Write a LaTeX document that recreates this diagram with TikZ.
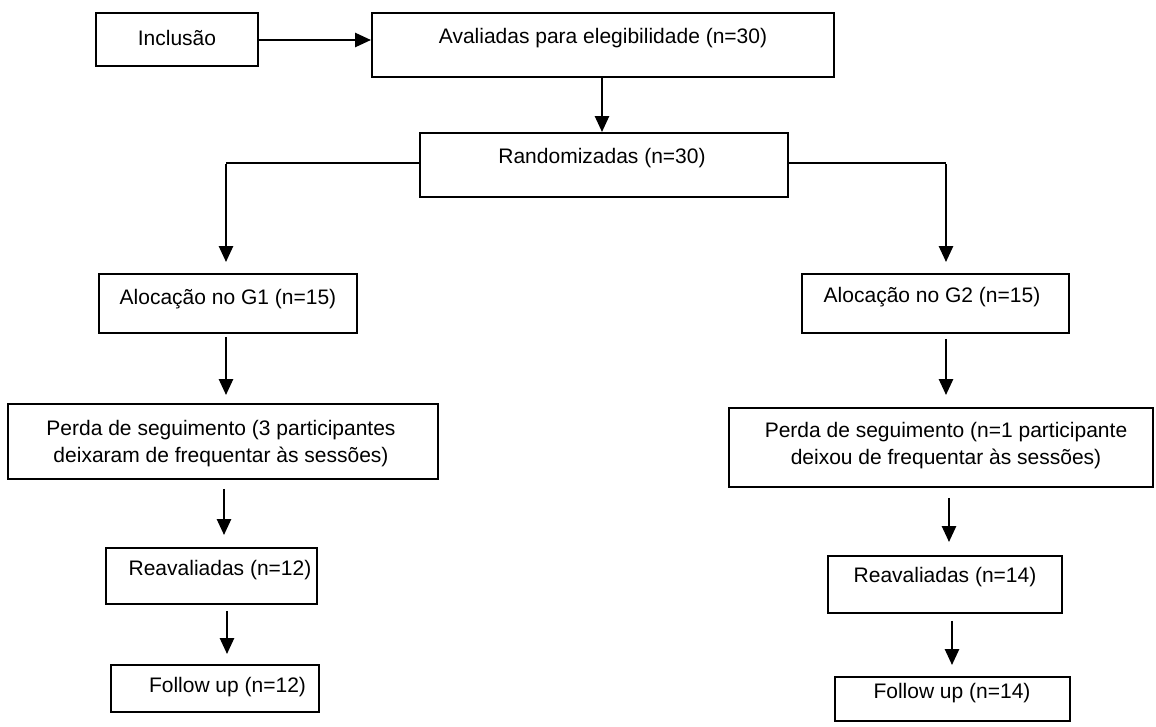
\documentclass[tikz,border=0pt]{standalone}
\usepackage{fontspec}
\setmainfont{Liberation Sans}
\usetikzlibrary{arrows.meta}
\begin{document}
\begin{tikzpicture}[x=1pt,y=-1pt,
  box/.style={draw=black, line width=1.9pt, rectangle, inner sep=0pt},
  txt/.style={inner sep=0pt, font=\fontsize{21}{27}\selectfont, align=center},
  arr/.style={draw=black, line width=2.6pt, -{Triangle[length=16pt,width=14pt]}},
  ln/.style={draw=black, line width=2.6pt}]
\useasboundingbox (0,0) rectangle (1156,726);
\fill[white] (0,0) rectangle (1156,726);
% boxes
\node[box, minimum width=162pt, minimum height=53pt] (inc) at (177,39.5) {};
\node[txt] (incT) at (177,38) {Inclusão};
\node[box, minimum width=462pt, minimum height=64pt] (ava) at (603,45) {};
\node[txt] (avaT) at (603,38) {Avaliadas para elegibilidade (n=30)};
\node[box, minimum width=368pt, minimum height=64pt] (rand) at (604,165) {};
\node[txt] (randT) at (602,158) {Randomizadas (n=30)};
\node[box, minimum width=258pt, minimum height=59pt] (g1) at (228,303.5) {};
\node[txt] (g1T) at (228,299) {Alocação no G1 (n=15)};
\node[box, minimum width=267pt, minimum height=59pt] (g2) at (935.5,303.5) {};
\node[txt] (g2T) at (932,297) {Alocação no G2 (n=15)};
\node[box, minimum width=430pt, minimum height=75pt] (p1) at (223,441.5) {};
\node[txt] (p1T) at (221,443.5) {Perda de seguimento (3 participantes\\deixaram de frequentar às sessões)};
\node[box, minimum width=424pt, minimum height=79pt] (p2) at (941,447.5) {};
\node[txt] (p2T) at (946,445.5) {Perda de seguimento (n=1 participante\\deixou de frequentar às sessões)};
\node[box, minimum width=211pt, minimum height=56pt] (r1) at (211.5,576) {};
\node[txt] (r1T) at (220,570) {Reavaliadas (n=12)};
\node[box, minimum width=208pt, minimum height=47pt] (f1) at (215,688.5) {};
\node[txt] (f1T) at (227.5,687) {Follow up (n=12)};
\node[box, minimum width=234pt, minimum height=57pt] (r2) at (945,584.5) {};
\node[txt] (r2T) at (945,577) {Reavaliadas (n=14)};
\node[box, minimum width=235pt, minimum height=44pt] (f2) at (952.5,699) {};
\node[txt] (f2T) at (952,693) {Follow up (n=14)};
% column coordinates
\coordinate (yA) at (0,40);
\coordinate (yB) at (0,163);
\coordinate (xA) at (602,0);
\coordinate (xL1) at (226,0);
\coordinate (xR1) at (946,0);
\coordinate (xL2) at (224,0);
\coordinate (xR2) at (949,0);
\coordinate (xL3) at (227,0);
\coordinate (xR3) at (952,0);
\coordinate (kL) at (226,163);
\coordinate (kR) at (946,163);
% connectors
\draw[arr] (inc.east |- yA) -- (ava.west |- yA);
\draw[arr] (ava.south -| xA) -- (rand.north -| xA);
\draw[ln] (rand.west |- yB) -- (kL);
\draw[arr, shorten >=11pt] ([yshift=-1.3pt]kL) -- (g1.north -| kL);
\draw[ln] (rand.east |- yB) -- (kR);
\draw[arr, shorten >=11pt] ([yshift=-1.3pt]kR) -- (g2.north -| kR);
\draw[arr, shorten <=3pt, shorten >=8pt] (g1.south -| xL1) -- (p1.north -| xL1);
\draw[arr, shorten <=5pt, shorten >=12pt] (g2.south -| xR1) -- (p2.north -| xR1);
\draw[arr, shorten <=9pt, shorten >=12pt] (p1.south -| xL2) -- (r1.north -| xL2);
\draw[arr, shorten <=10pt, shorten >=13pt] (p2.south -| xR2) -- (r2.north -| xR2);
\draw[arr, shorten <=6pt, shorten >=10pt] (r1.south -| xL3) -- (f1.north -| xL3);
\draw[arr, shorten <=7pt, shorten >=11pt] (r2.south -| xR3) -- (f2.north -| xR3);
\end{tikzpicture}
\end{document}
